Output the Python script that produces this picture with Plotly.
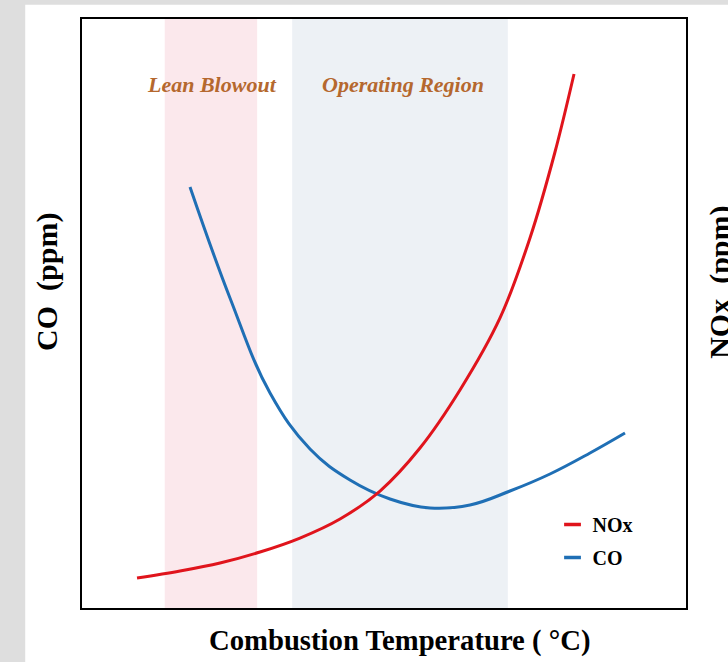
import plotly.graph_objects as go

# Data (arbitrary units, temperature scale 0-100)
nox_temp = [9.11, 16.23, 22.85, 29.47, 36.09, 42.72, 49.34, 55.96, 62.58, 69.21, 74.17, 78.31, 81.46]
nox_ppm = [5.09, 6.28, 7.64, 9.51, 11.88, 15.11, 19.86, 27.16, 37.01, 49.24, 62.82, 77.42, 90.66]

co_temp = [17.88, 24.50, 31.13, 37.75, 44.37, 50.99, 57.62, 64.24, 70.86, 77.48, 84.11, 89.90]
co_ppm = [71.48, 52.63, 36.50, 26.99, 21.73, 18.51, 16.98, 17.49, 19.86, 22.75, 26.32, 29.71]

regions = ["Lean Blowout", "Operating Region"]
region_start = [13.7, 34.8]
region_end = [29.0, 70.5]
region_label_x = [21.6, 53.1]
region_colors = ["#fbe8ec", "#edf1f5"]

RED = "#e0141c"
BLUE = "#1f6fb5"
GREY = "#dedede"
FONT = "Liberation Serif"

fig = go.Figure()

fig.add_trace(go.Scatter(x=nox_temp, y=nox_ppm, mode="lines", name="NOx",
                         line=dict(color=RED, width=3, shape="spline", smoothing=1.0),
                         showlegend=False, yaxis="y2"))
fig.add_trace(go.Scatter(x=co_temp, y=co_ppm, mode="lines", name="CO",
                         line=dict(color=BLUE, width=3, shape="spline", smoothing=1.15),
                         showlegend=False))
# legend entries with short dash symbols
for nm, col in [("NOx", RED), ("CO", BLUE)]:
    fig.add_trace(go.Scatter(x=[None], y=[None], mode="markers", name="<b>%s</b>" % nm,
                             legendgroup=nm,
                             marker=dict(symbol="line-ew-open", size=12, color=col,
                                         line=dict(color=col, width=3.5))))

# shaded regions + labels
for lab, x0, x1, xl, c in zip(regions, region_start, region_end, region_label_x, region_colors):
    fig.add_vrect(x0=x0, x1=x1, fillcolor=c, line_width=0, layer="below")
    fig.add_annotation(x=xl, y=0.8896, xref="x", yref="paper", text="<b><i>%s</i></b>" % lab,
                       xanchor="center", yanchor="middle",
                       showarrow=False, font=dict(family=FONT, size=22, color="#b5682e"))

# grey page strips (left and top) around the white card
fig.add_shape(type="rect", xref="paper", yref="paper", x0=-0.2, x1=-0.094, y0=-0.2, y1=1.2,
              fillcolor=GREY, line_width=0, layer="below")
fig.add_shape(type="rect", xref="paper", yref="paper", x0=-0.2, x1=1.3, y0=1.024, y1=1.2,
              fillcolor=GREY, line_width=0, layer="below")

# axis titles
fig.add_annotation(x=-0.058, y=0.5535, xref="paper", yref="paper", text="<b>CO  (ppm)</b>",
                   textangle=-90, xanchor="center", yanchor="middle",
                   showarrow=False, font=dict(family=FONT, size=30, color="black"))
fig.add_annotation(x=1.056, y=0.5535, xref="paper", yref="paper", text="<b>NOx  (ppm)</b>",
                   textangle=-90, xanchor="center", yanchor="middle",
                   showarrow=False, font=dict(family=FONT, size=30, color="black"))
fig.add_annotation(x=0.527, y=-0.056, xref="paper", yref="paper",
                   text="<b>Combustion Temperature ( °C)</b>",
                   xanchor="center", yanchor="middle",
                   showarrow=False, font=dict(family=FONT, size=28.7, color="black"))

axis_common = dict(showgrid=False, zeroline=False, showticklabels=False, ticks="")
fig.update_layout(
    width=728, height=662,
    margin=dict(l=82, r=42, t=19, b=54),
    paper_bgcolor="white",
    plot_bgcolor="white",
    xaxis=dict(range=[0, 100], showline=True, mirror=True, linecolor="black", linewidth=2, **axis_common),
    yaxis=dict(range=[0, 100], showline=True, mirror=True, linecolor="black", linewidth=2, **axis_common),
    yaxis2=dict(range=[0, 100], overlaying="y", side="right", showline=False, **axis_common),
    legend=dict(x=0.779, y=0.175, xanchor="left", yanchor="top", bgcolor="rgba(0,0,0,0)",
                font=dict(family=FONT, size=20, color="black"), tracegroupgap=4),
    font=dict(family=FONT),
    showlegend=True,
)

fig.write_html("out.html", config={"displayModeBar": False},
               post_script="document.body.style.margin='0';document.body.style.background='#ffffff';")
